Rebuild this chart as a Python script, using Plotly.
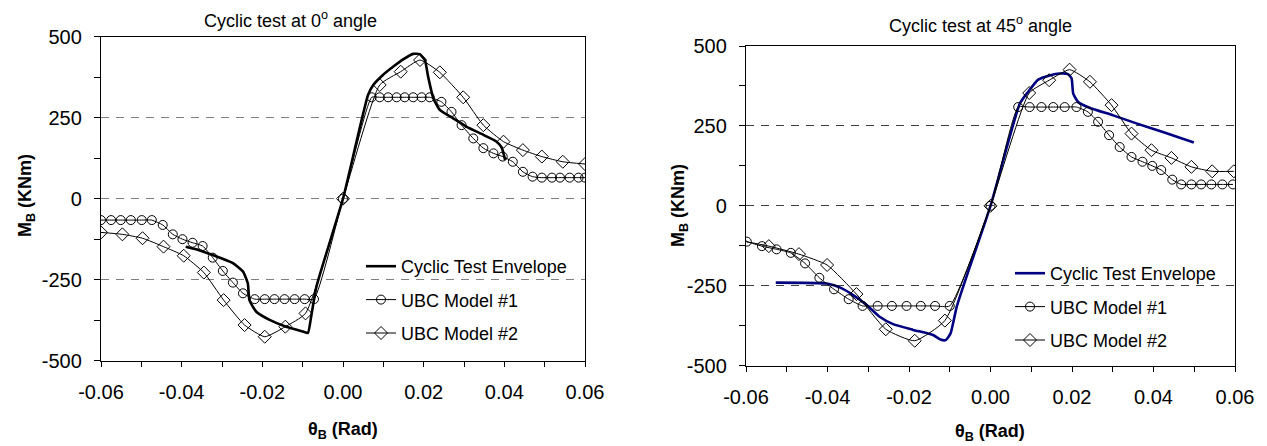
import plotly.graph_objects as go

# page is drawn with an 8px body margin: design in page pixels, then shift
OFF = 8
W, H = 1267 - OFF, 446 - OFF

# ---------------- Data: Cyclic test at 0 deg ----------------
test0_x = [-0.039, -0.0364, -0.0323, -0.0273, -0.0248, -0.0236, -0.0232, -0.0215, -0.0182, -0.0141,
           -0.0099, -0.0087, -0.0079, -0.0066, 0.0, 0.0062, 0.0075, 0.0099, 0.0124, 0.0149, 0.0174,
           0.019, 0.0203, 0.0211, 0.0224, 0.024, 0.0273, 0.0307, 0.0348, 0.0381, 0.0394, 0.0402]
test0_y = [-148, -156, -174, -199, -225, -261, -313, -349, -374, -395,
           -410, -414, -364, -272, 0, 320, 351, 382, 407, 430, 447,
           446, 428, 377, 310, 274, 248, 222, 197, 176, 156, 119]

m1_0_x = [-0.06, -0.0575, -0.0551, -0.0526, -0.0499, -0.0474, -0.0447, -0.0422, -0.0398, -0.0373,
          -0.0348, -0.0323, -0.0298, -0.0273, -0.0248, -0.0219, -0.0194, -0.017, -0.0145, -0.012,
          -0.0095, -0.0072, 0.0, 0.0071, 0.0091, 0.0112, 0.0133, 0.0153, 0.0174, 0.0195, 0.0215,
          0.0244, 0.0269, 0.0294, 0.0323, 0.0348, 0.0373, 0.0396, 0.0421, 0.0446, 0.047,
          0.0493, 0.0518, 0.0538, 0.0562, 0.0584, 0.06]
m1_0_y = [-66, -66, -66, -66, -66, -66, -81, -110, -125, -136,
          -146, -182, -223, -259, -292, -310, -310, -310, -310, -310,
          -310, -310, 0, 313, 313, 313, 313, 313, 313, 313, 313,
          299, 268, 227, 186, 156, 140, 130, 114, 83, 68,
          65, 65, 65, 65, 65, 65]

m2_0_x = [-0.06, -0.0547, -0.0497, -0.0445, -0.0395, -0.0345, -0.0296, -0.0244, -0.0194, -0.0143,
          -0.0093, 0.0, 0.0091, 0.0143, 0.0191, 0.024, 0.0298, 0.0348, 0.0398, 0.0446, 0.0493,
          0.0545, 0.06]
m2_0_y = [-104, -110, -122, -148, -176, -228, -313, -390, -426, -395,
          -354, 0, 351, 392, 428, 390, 313, 227, 176, 150, 130,
          114, 107]

# ---------------- Data: Cyclic test at 45 deg ----------------
test45_x = [-0.0527, -0.0402, -0.037, -0.0337, -0.0304, -0.0272, -0.0239, -0.019, -0.0141, -0.0123,
            -0.011, -0.0098, -0.0083, -0.0059, 0.0, 0.0072, 0.0092, 0.0117, 0.0145, 0.017, 0.019,
            0.0199, 0.0203, 0.0215, 0.0243, 0.0301, 0.0358, 0.0423, 0.0499]
test45_y = [-240, -243, -255, -279, -310, -347, -370, -388, -404, -418,
            -420, -399, -316, -222, 0, 320, 356, 395, 408, 414, 412,
            398, 351, 325, 307, 283, 258, 231, 198]

m1_45_x = [-0.0598, -0.0561, -0.0525, -0.049, -0.0455, -0.042, -0.0384, -0.0348, -0.0314, -0.0277,
           -0.0242, -0.0206, -0.0171, -0.0136, -0.01, 0.0, 0.0068, 0.0096, 0.0125, 0.0154, 0.0182,
           0.0211, 0.0239, 0.0264, 0.0291, 0.0317, 0.0346, 0.0373, 0.0397, 0.0419, 0.0446, 0.0468,
           0.0493, 0.0517, 0.0542, 0.0569, 0.0595]
m1_45_y = [-112, -126, -136, -147, -180, -225, -261, -292, -313, -313,
           -313, -313, -313, -313, -313, 0, 309, 309, 309, 309, 309,
           309, 294, 263, 221, 184, 153, 138, 125, 112, 82, 67,
           67, 67, 67, 67, 67]

m2_45_x = [-0.0616, -0.0544, -0.047, -0.0401, -0.0329, -0.0257, -0.0186, -0.0112, 0.0, 0.0095,
           0.0144, 0.0194, 0.0244, 0.0297, 0.0346, 0.0395, 0.0444, 0.0493, 0.0544, 0.0597]
m2_45_y = [-108, -126, -151, -185, -276, -386, -422, -359, 0, 353,
           393, 426, 388, 315, 226, 174, 150, 122, 108, 108]

x_tickvals = [-0.06, -0.04, -0.02, 0.0, 0.02, 0.04, 0.06]
x_ticktext = ["-0.06", "-0.04", "-0.02", "0.00", "0.02", "0.04", "0.06"]
x_minor = [-0.05, -0.03, -0.01, 0.01, 0.03, 0.05]
y_tickvals = [-500, -250, 0, 250, 500]
y_ticktext = ["-500", "-250", "0", "250", "500"]
y_minor = [-375, -125, 125, 375]

names = ["Cyclic Test Envelope", "UBC Model #1", "UBC Model #2"]
titles = ["Cyclic test at 0<sup>o</sup> angle", "Cyclic test at 45<sup>o</sup> angle"]

FONT = "Arial, 'Liberation Sans', sans-serif"


def px(x):
    return (x - OFF) / W


def py(y):
    return 1 - (y - OFF) / H


fig = go.Figure()


def add_panel(idx, tx, ty, ax, ay, bx, by, test_color, legend):
    xa = "x" if idx == 1 else "x2"
    ya = "y" if idx == 1 else "y2"
    fig.add_trace(go.Scatter(x=tx, y=ty, mode="lines", name=names[0],
                             line=dict(color=test_color, width=2.6, shape="spline", smoothing=0.5),
                             xaxis=xa, yaxis=ya, legend=legend, legendgroup=f"a{idx}"))
    fig.add_trace(go.Scatter(x=ax, y=ay, mode="lines+markers", name=names[1],
                             line=dict(color="black", width=1, shape="spline", smoothing=0.5),
                             marker=dict(symbol="circle-open", size=9, color="black", line=dict(width=1)),
                             xaxis=xa, yaxis=ya, legend=legend, legendgroup=f"b{idx}"))
    fig.add_trace(go.Scatter(x=bx, y=by, mode="lines+markers", name=names[2],
                             line=dict(color="black", width=1, shape="spline", smoothing=0.5),
                             marker=dict(symbol="diamond-open", size=10, color="black", line=dict(width=1)),
                             xaxis=xa, yaxis=ya, legend=legend, legendgroup=f"c{idx}"))


add_panel(1, test0_x, test0_y, m1_0_x, m1_0_y, m2_0_x, m2_0_y, "black", "legend")
add_panel(2, test45_x, test45_y, m1_45_x, m1_45_y, m2_45_x, m2_45_y, "#000080", "legend2")


def xaxis(dom):
    return dict(domain=dom, range=[-0.06, 0.06], tickvals=x_tickvals, ticktext=x_ticktext,
                ticks="outside", ticklen=5, tickcolor="black", tickwidth=1,
                minor=dict(tickvals=x_minor, ticks="outside", ticklen=5, tickcolor="black", showgrid=False),
                showline=True, linecolor="black", linewidth=1.3, mirror=True,
                showgrid=False, zeroline=False, ticklabelstandoff=8, automargin=False,
                tickfont=dict(family=FONT, size=20, color="black"))


def yaxis(dom, anchor, gridcolor):
    return dict(domain=dom, anchor=anchor, range=[-500, 500], tickvals=y_tickvals, ticktext=y_ticktext,
                ticks="outside", ticklen=6, tickcolor="black", tickwidth=1,
                minor=dict(tickvals=y_minor, ticks="outside", ticklen=6, tickcolor="black", showgrid=False),
                showline=True, linecolor="black", linewidth=1.3, mirror=True,
                showgrid=True, gridcolor=gridcolor, griddash="8px,7px", gridwidth=1.2,
                zeroline=False, ticklabelstandoff=8, automargin=False,
                tickfont=dict(family=FONT, size=20, color="black"))


# plot areas in page pixels: left, right, top, bottom
L = (101, 585, 36.7, 360.7)
R = (746, 1235, 46, 365.7)

fig.update_layout(
    width=W, height=H, autosize=False,
    margin=dict(l=0, r=0, t=0, b=0, pad=0, autoexpand=False),
    paper_bgcolor="white", plot_bgcolor="white",
    showlegend=True,
    xaxis=dict(**xaxis([px(L[0]), px(L[1])]), anchor="y"),
    yaxis=yaxis([py(L[3]), py(L[2])], "x", "#808080"),
    xaxis2=dict(**xaxis([px(R[0]), px(R[1])]), anchor="y2"),
    yaxis2=yaxis([py(R[3]), py(R[2])], "x2", "#404040"),
    legend=dict(x=px(361), y=py(248), xanchor="left", yanchor="top",
                bgcolor="rgba(0,0,0,0)", tracegroupgap=7,
                font=dict(family=FONT, size=18, color="black")),
    legend2=dict(x=px(1010), y=py(255), xanchor="left", yanchor="top",
                 bgcolor="rgba(0,0,0,0)", tracegroupgap=7,
                 font=dict(family=FONT, size=18, color="black")),
    font=dict(family=FONT, color="black"),
)

for text, xc, yc in [(titles[0], 290, 19), (titles[1], 980, 25)]:
    fig.add_annotation(text=text, x=px(xc), y=py(yc), xref="paper", yref="paper",
                       showarrow=False, xanchor="center", yanchor="middle",
                       font=dict(family=FONT, size=18, color="black"))

for xc, yc in [(343, 430), (990, 432)]:
    fig.add_annotation(text="<b>θ<sub>B</sub> (Rad)</b>", x=px(xc), y=py(yc), xref="paper", yref="paper",
                       showarrow=False, xanchor="center", yanchor="middle",
                       font=dict(family=FONT, size=18, color="black"))
for xc, yc in [(26, 196), (680, 205)]:
    fig.add_annotation(text="<b>M<sub>B</sub> (KNm)</b>", x=px(xc), y=py(yc), xref="paper", yref="paper",
                       showarrow=False, xanchor="center", yanchor="middle", textangle=-90,
                       font=dict(family=FONT, size=18, color="black"))

fig.write_html("out.html")
